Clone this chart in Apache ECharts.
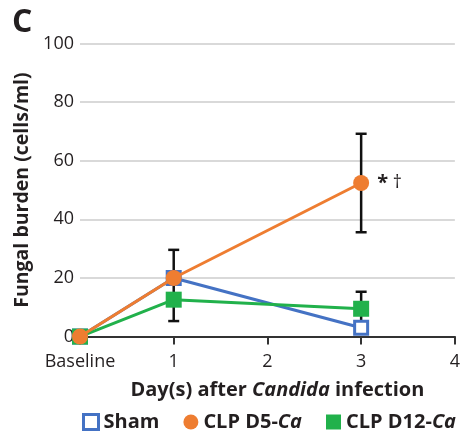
<!DOCTYPE html>
<html>
<head>
<meta charset="utf-8">
<script src="https://cdn.jsdelivr.net/npm/echarts@6/dist/echarts.min.js"></script>
<style>html,body{margin:0;padding:0;background:#fff}#c{width:463px;height:432px}</style>
</head>
<body>
<div id="c"></div>
<script>
var days = [0, 1, 3];
var xTicks = ['Baseline', '1', '2', '3', '4'];
var yTicks = [0, 20, 40, 60, 80, 100];
var sham = [0, 20, 3];
var clpD5 = [0, 20, 52.4];
var clpD12 = [0, 12.6, 9.5];
var errX = [1, 3, 3];
var errLow = [5.3, 35.6, 3.7];
var errHigh = [29.6, 69.2, 15.3];
var annotation = '{a|*} \u2020';

var BLUE = '#4472C4', ORANGE = '#EE7D31', GREEN = '#21B14B', TXT = '#231F20';
var FONT = '"Open Sans", sans-serif';

function pairs(arr) { return days.map(function (d, i) { return [d, arr[i]]; }); }

var chart = echarts.init(document.getElementById('c'), null, {renderer: 'canvas'});
chart.setOption({
  animation: false,
  textStyle: {fontFamily: FONT},
  grid: {left: 80, right: 4, top: 43.5, bottom: 432 - 336.6, containLabel: false},
  title: {text: 'C', left: 12, top: 7, padding: 0, textStyle: {fontFamily: FONT, fontWeight: 'bold', fontSize: 32, color: TXT}},
  xAxis: {
    type: 'value', min: 0, max: 4, interval: 1,
    axisLine: {show: true, onZero: false, lineStyle: {color: '#333', width: 2}},
    axisTick: {show: true, length: 8, lineStyle: {color: '#333', width: 2}},
    splitLine: {show: false},
    axisLabel: {fontSize: 18, color: TXT, margin: 16, formatter: function (v) { return xTicks[v]; }},
    name: '{b|Day(s) after }{i|Candida}{b| infection}',
    nameLocation: 'middle', nameGap: 44,
    nameTextStyle: {padding: [0, 0, 0, 20], rich: {
      b: {fontFamily: FONT, fontWeight: 'bold', fontSize: 20, color: TXT},
      i: {fontFamily: FONT, fontWeight: 'bold', fontStyle: 'italic', fontSize: 20, color: TXT}
    }}
  },
  yAxis: {
    type: 'value', min: 0, max: 100, interval: 20,
    axisLine: {show: false}, axisTick: {show: false},
    splitLine: {show: true, lineStyle: {color: '#D9D9D9', width: 2}},
    axisLabel: {fontSize: 18, color: TXT, margin: 6, formatter: function (v) { return yTicks.indexOf(v) >= 0 ? String(v) : ''; }},
    name: 'Fungal burden (cells/ml)', nameLocation: 'middle', nameGap: 46,
    nameTextStyle: {fontFamily: FONT, fontWeight: 'bold', fontSize: 19.5, color: TXT}
  },
  legend: {
    left: 82, top: 412, padding: 0, itemWidth: 15, itemHeight: 15, itemGap: 24,
    textStyle: {fontFamily: FONT, fontWeight: 'bold', fontSize: 20, color: TXT,
      rich: {i: {fontFamily: FONT, fontWeight: 'bold', fontStyle: 'italic', fontSize: 20, color: TXT}}},
    formatter: function (n) { return n.replace('-Ca', '-{i|Ca}'); },
    data: [
      {name: 'Sham', icon: 'rect', itemStyle: {color: '#fff', borderColor: BLUE, borderWidth: 3}},
      {name: 'CLP D5-Ca', icon: 'circle'},
      {name: 'CLP D12-Ca', icon: 'rect'}
    ]
  },
  series: [
    {
      type: 'custom', name: 'err', z: 1, silent: true,
      data: errX.map(function (x, i) { return [x, errLow[i], errHigh[i]]; }),
      renderItem: function (params, api) {
        var lo = api.coord([api.value(0), api.value(1)]);
        var hi = api.coord([api.value(0), api.value(2)]);
        var w = 5.5;
        var st = {stroke: '#111', lineWidth: 2.5};
        return {type: 'group', children: [
          {type: 'line', shape: {x1: lo[0], y1: lo[1], x2: hi[0], y2: hi[1]}, style: st},
          {type: 'line', shape: {x1: lo[0] - w, y1: lo[1], x2: lo[0] + w, y2: lo[1]}, style: st},
          {type: 'line', shape: {x1: hi[0] - w, y1: hi[1], x2: hi[0] + w, y2: hi[1]}, style: st}
        ]};
      }
    },
    {
      type: 'line', name: 'Sham', z: 3, data: pairs(sham),
      symbol: 'rect', symbolSize: 13,
      lineStyle: {color: BLUE, width: 3},
      itemStyle: {color: '#fff', borderColor: BLUE, borderWidth: 3}
    },
    {
      type: 'line', name: 'CLP D12-Ca', z: 4, data: pairs(clpD12),
      symbol: 'rect', symbolSize: 16,
      lineStyle: {color: GREEN, width: 3},
      itemStyle: {color: GREEN, borderWidth: 0}
    },
    {
      type: 'line', name: 'CLP D5-Ca', z: 5,
      data: pairs(clpD5).map(function (p, i) {
        return i === clpD5.length - 1 ? {value: p, label: {show: true, position: 'right', distance: 8, formatter: annotation, fontSize: 18, color: TXT,
          rich: {a: {fontSize: 20, fontWeight: 'bold', color: TXT, fontFamily: FONT}}}} : p;
      }),
      symbol: 'circle', symbolSize: 16,
      lineStyle: {color: ORANGE, width: 3},
      itemStyle: {color: ORANGE, borderWidth: 0}
    }
  ]
});
</script>
</body>
</html>
